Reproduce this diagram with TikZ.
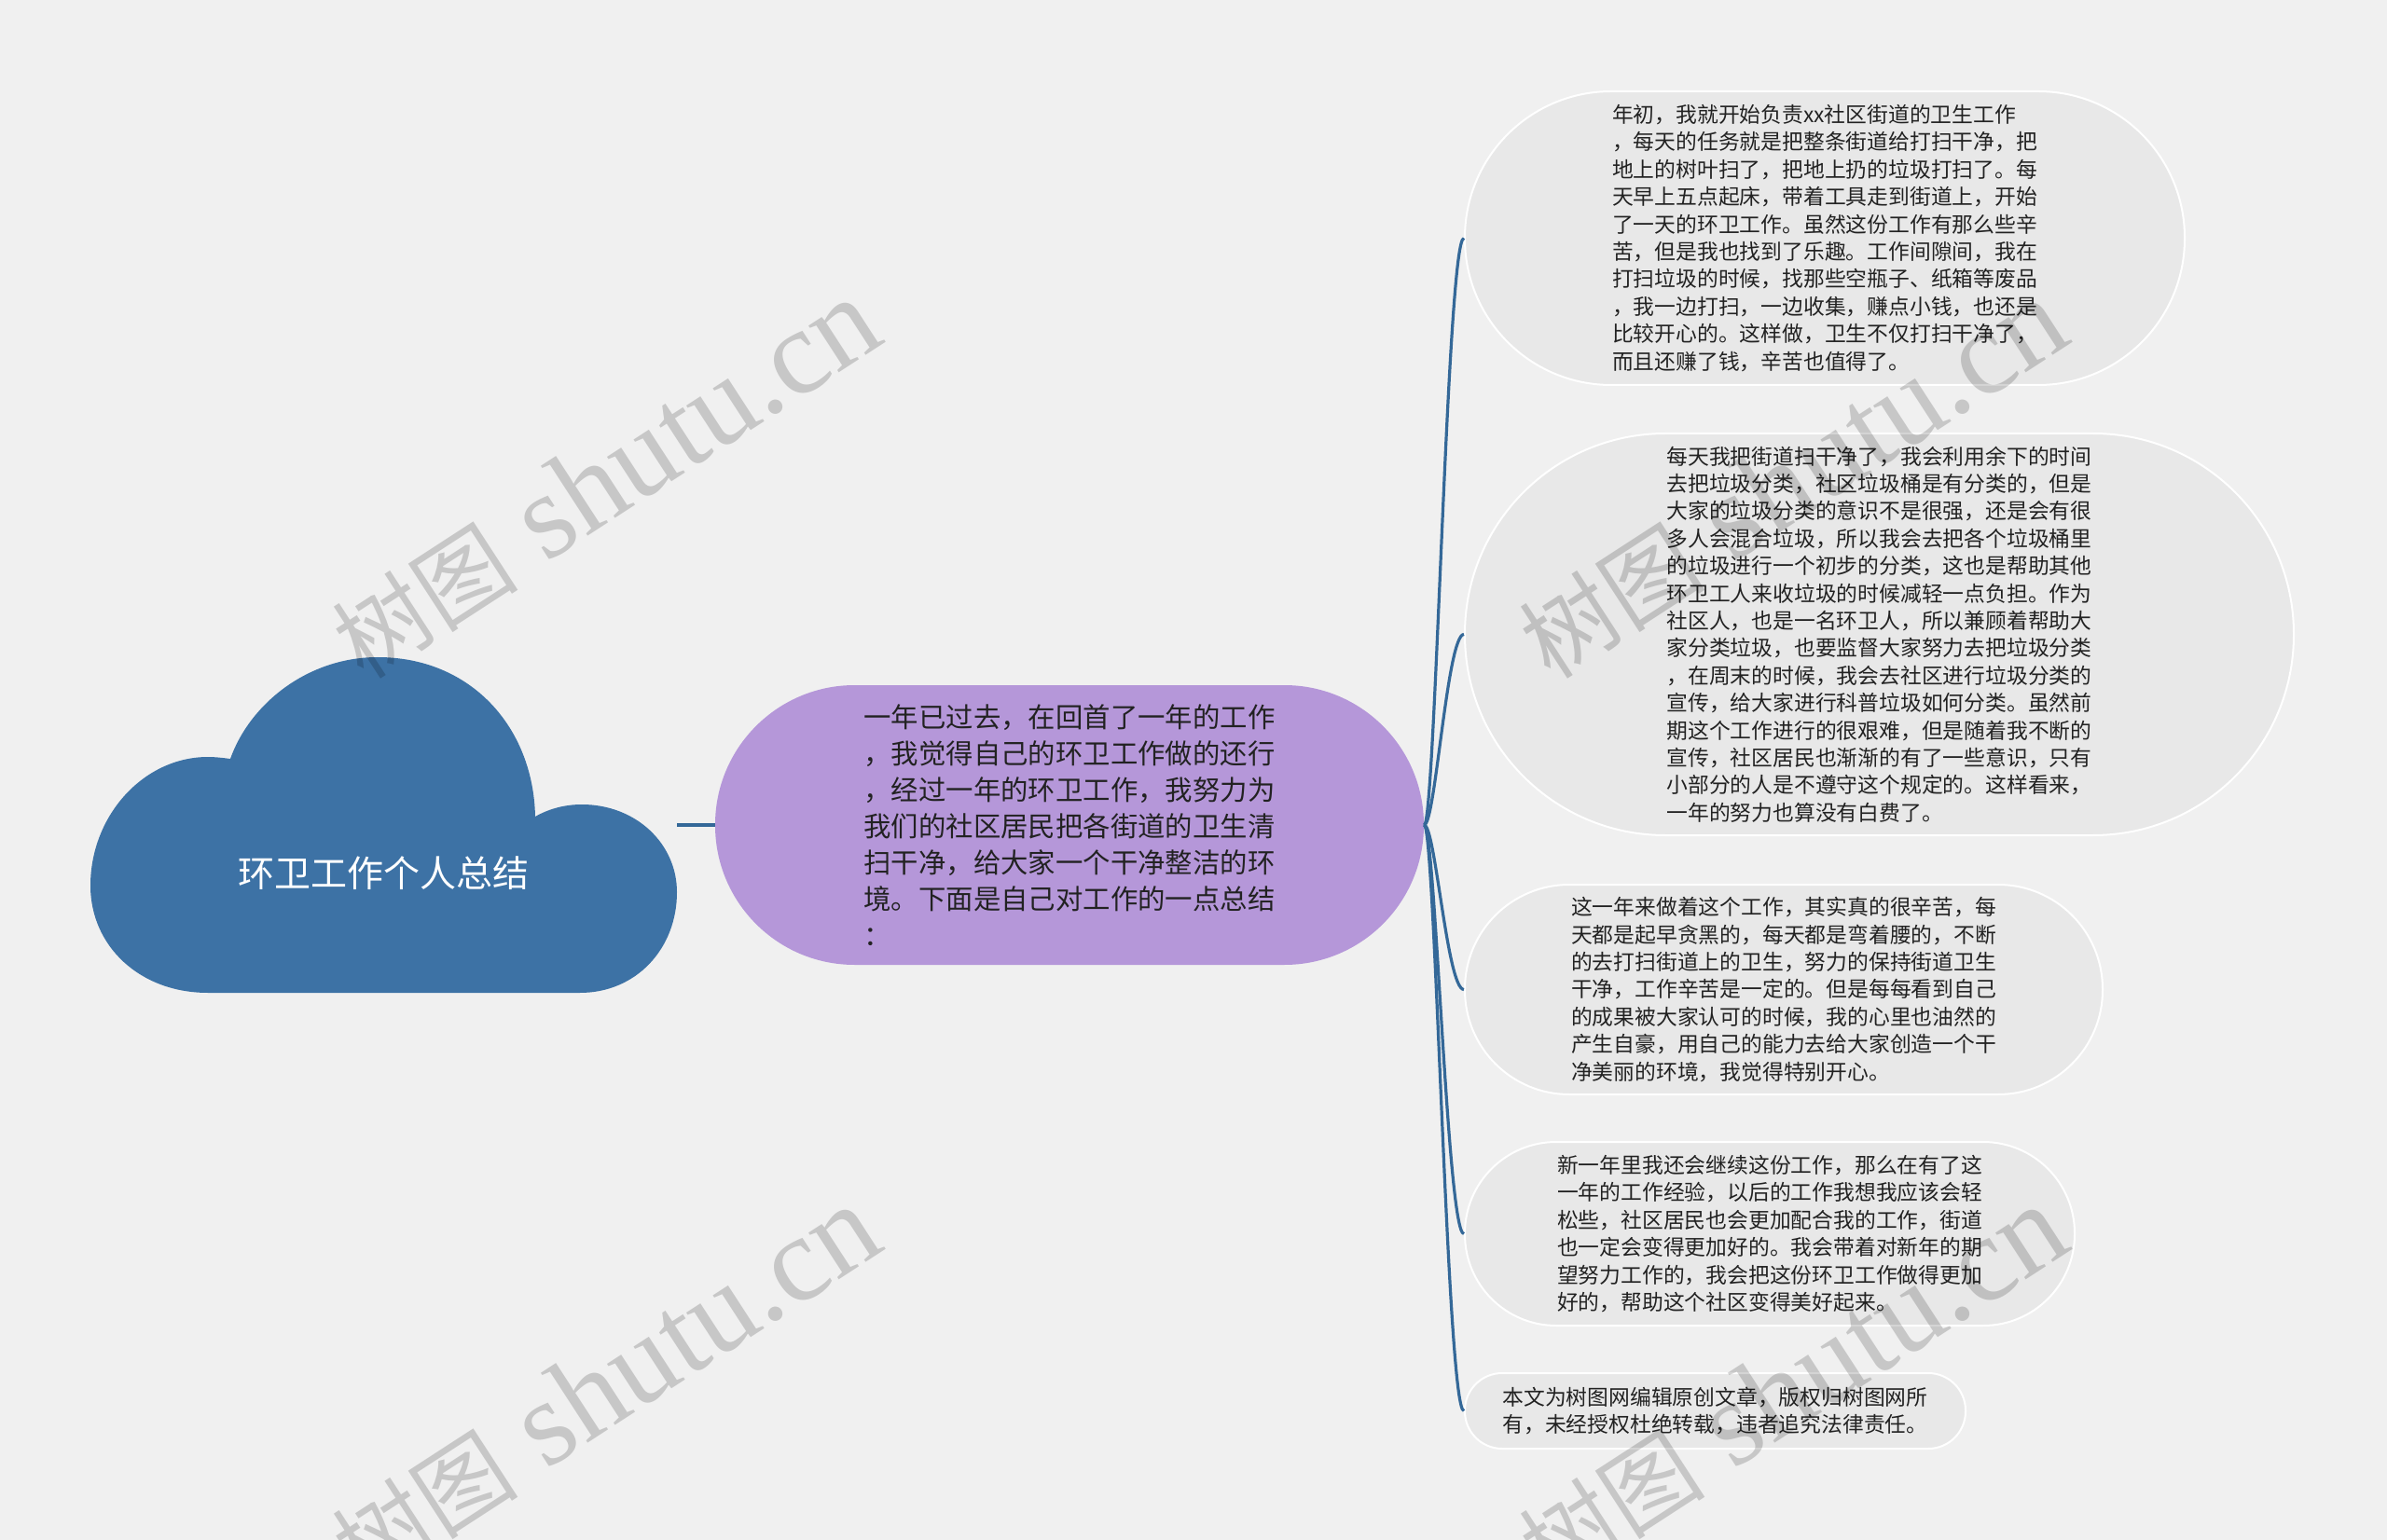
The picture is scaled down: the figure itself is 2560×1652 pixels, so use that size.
\documentclass[tikz,border=0pt]{standalone}
\usepackage{fontspec}
\setmainfont{Noto Sans CJK SC}
\newfontfamily\wmlatin{Liberation Serif}
\newfontfamily\wmcjk{Noto Sans CJK SC}
\definecolor{bgc}{RGB}{240,240,240}
\definecolor{cloudc}{RGB}{61,114,165}
\definecolor{linec}{RGB}{52,104,152}
\definecolor{purplec}{RGB}{181,151,217}
\definecolor{leafc}{RGB}{232,232,232}
\definecolor{txtc}{RGB}{34,34,34}
\definecolor{wmc}{RGB}{212,212,212}
\newcommand\wmtext{{\wmcjk\fontsize{50pt}{60pt}\selectfont 树图}{\wmlatin\fontsize{65pt}{65pt}\selectfont\ shutu.cn}}
\begin{document}
\begin{tikzpicture}[x=0.5pt,y=-0.5pt,
  leaf/.style={draw=white, line width=1pt, fill=leafc, text=txtc, align=left,
    font=\fontsize{11.4pt}{14.7pt}\selectfont, inner sep=0pt},
  mid/.style={fill=purplec, text=txtc, align=left,
    font=\fontsize{14.7pt}{19.5pt}\selectfont, inner sep=0pt,
    minimum width=380pt, minimum height=150pt, rounded corners=74.8pt},
  conn/.style={draw=linec, line width=1.6pt},
  trunk/.style={draw=linec, line width=2pt},
  wm/.style={text=wmc, rotate=33, inner sep=0pt}]
\useasboundingbox (0,0) rectangle (2560,1652);
\fill[bgc] (0,0) rectangle (2560,1652);

% cloud
\fill[cloudc] (223,1065) -- (622,1065)
  .. controls (682,1065) and (726,1018) .. (726,957)
  .. controls (726,905) and (682,863) .. (624,863)
  .. controls (605,863) and (588,868) .. (574,876)
  .. controls (572,780) and (505,705) .. (405,705)
  .. controls (330,705) and (268,755) .. (247,814)
  .. controls (239,813) and (231,812) .. (223,812)
  .. controls (154,812) and (97,875) .. (97,950)
  .. controls (97,1015) and (150,1065) .. (223,1065) -- cycle;
\node[text=white, font=\fontsize{19.5pt}{24pt}\selectfont] (title) at (411,937) {环卫工作个人总结};
\coordinate (cloudR) at (726,885);

% middle node
\node[mid] (mid) at (1147,885) {一年已过去，在回首了一年的工作\\，我觉得自己的环卫工作做的还行\\，经过一年的环卫工作，我努力为\\我们的社区居民把各街道的卫生清\\扫干净，给大家一个干净整洁的环\\境。下面是自己对工作的一点总结\\：};

% leaf nodes
\node[leaf, minimum width=386pt, minimum height=157.5pt, rounded corners=78.5pt] (n1) at (1957,255.5)
{年初，我就开始负责xx社区街道的卫生工作\\，每天的任务就是把整条街道给打扫干净，把\\地上的树叶扫了，把地上扔的垃圾打扫了。每\\天早上五点起床，带着工具走到街道上，开始\\了一天的环卫工作。虽然这份工作有那么些辛\\苦，但是我也找到了乐趣。工作间隙间，我在\\打扫垃圾的时候，找那些空瓶子、纸箱等废品\\，我一边打扫，一边收集，赚点小钱，也还是\\比较开心的。这样做，卫生不仅打扫干净了，\\而且还赚了钱，辛苦也值得了。};

\node[leaf, minimum width=444.5pt, minimum height=215.5pt, rounded corners=107.5pt] (n2) at (2015.5,680.5)
{每天我把街道扫干净了，我会利用余下的时间\\去把垃圾分类，社区垃圾桶是有分类的，但是\\大家的垃圾分类的意识不是很强，还是会有很\\多人会混合垃圾，所以我会去把各个垃圾桶里\\的垃圾进行一个初步的分类，这也是帮助其他\\环卫工人来收垃圾的时候减轻一点负担。作为\\社区人，也是一名环卫人，所以兼顾着帮助大\\家分类垃圾，也要监督大家努力去把垃圾分类\\，在周末的时候，我会去社区进行垃圾分类的\\宣传，给大家进行科普垃圾如何分类。虽然前\\期这个工作进行的很艰难，但是随着我不断的\\宣传，社区居民也渐渐的有了一些意识，只有\\小部分的人是不遵守这个规定的。这样看来，\\一年的努力也算没有白费了。};

\node[leaf, minimum width=342pt, minimum height=112.5pt, rounded corners=56pt] (n3) at (1913,1061.5)
{这一年来做着这个工作，其实真的很辛苦，每\\天都是起早贪黑的，每天都是弯着腰的，不断\\的去打扫街道上的卫生，努力的保持街道卫生\\干净，工作辛苦是一定的。但是每每看到自己\\的成果被大家认可的时候，我的心里也油然的\\产生自豪，用自己的能力去给大家创造一个干\\净美丽的环境，我觉得特别开心。};

\node[leaf, minimum width=327pt, minimum height=98.5pt, rounded corners=49pt] (n4) at (1898,1323.5)
{新一年里我还会继续这份工作，那么在有了这\\一年的工作经验，以后的工作我想我应该会轻\\松些，社区居民也会更加配合我的工作，街道\\也一定会变得更加好的。我会带着对新年的期\\望努力工作的，我会把这份环卫工作做得更加\\好的，帮助这个社区变得美好起来。};

\node[leaf, minimum width=268.5pt, minimum height=40.5pt, rounded corners=20pt] (n5) at (1839.5,1513.5)
{本文为树图网编辑原创文章，版权归树图网所\\有，未经授权杜绝转载，违者追究法律责任。};

% connectors
\draw[trunk] (cloudR) -- (mid.west);
\foreach \n in {n1,n2,n3,n4,n5}
  \draw[conn] (mid.east) .. controls +(12,0) and +(-18,0) .. (\n.west);

% watermarks
\begin{scope}[blend mode=multiply]
\node[wm] (w1) at (649,514) {\wmtext};
\node[wm] (w2) at (1922,514) {\wmtext};
\node[wm] (w3) at (649,1487) {\wmtext};
\node[wm] (w4) at (1922,1487) {\wmtext};
\end{scope}
\end{tikzpicture}
\end{document}
